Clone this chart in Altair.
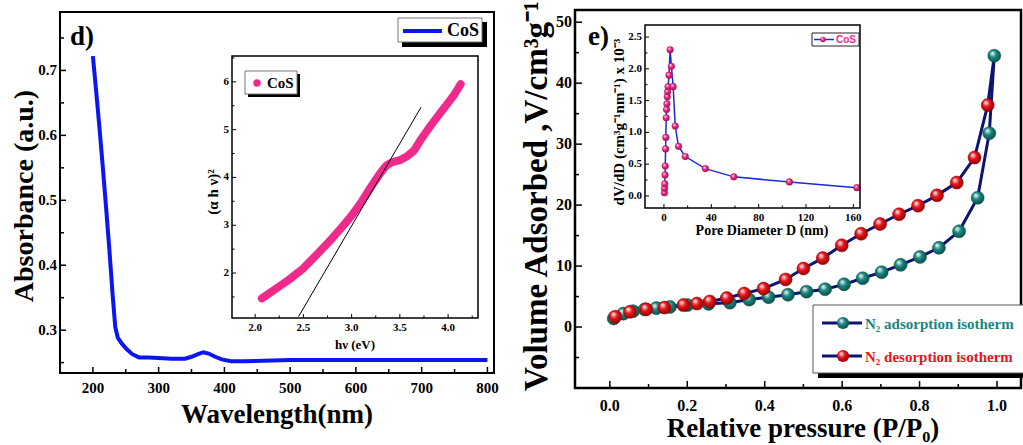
import altair as alt
import pandas as pd

SERIF = "Liberation Serif"
SANS = "Liberation Sans"
W, H = 1023, 445

# ---------------- UV-vis absorbance of CoS ----------------
wavelength_nm = [200, 205, 210, 215, 220, 225, 230, 234, 238, 245, 252, 260, 270, 285, 300,
                 320, 340, 350, 360, 368, 376, 386, 396, 410, 430, 460, 500, 550, 600, 650,
                 700, 750, 800]
absorbance = [0.722, 0.668, 0.612, 0.552, 0.490, 0.425, 0.355, 0.305, 0.288, 0.278, 0.270,
              0.263, 0.258, 0.258, 0.257, 0.256, 0.256, 0.259, 0.263, 0.266, 0.264, 0.259,
              0.255, 0.252, 0.252, 0.253, 0.254, 0.254, 0.254, 0.254, 0.254, 0.254, 0.254]

# ---------------- Tauc plot (inset) ----------------
photon_energy = [2.07, 2.2, 2.35, 2.5, 2.65, 2.8, 2.9, 3.0, 3.1, 3.2, 3.3, 3.36, 3.42, 3.5,
                 3.58, 3.65, 3.72, 3.8, 3.9, 4.0, 4.07, 4.13]
tauc_value = [1.47, 1.65, 1.86, 2.1, 2.41, 2.73, 2.96, 3.2, 3.48, 3.8, 4.1, 4.25, 4.32, 4.36,
              4.45, 4.57, 4.8, 5.03, 5.3, 5.56, 5.75, 5.95]
fit_energy = [2.45, 3.72]
fit_value = [1.09, 5.47]

# ---------------- N2 isotherms ----------------
ads_p = [0.01, 0.035, 0.06, 0.09, 0.12, 0.155, 0.2, 0.255, 0.31, 0.36, 0.41, 0.46, 0.508,
         0.556, 0.605, 0.653, 0.702, 0.751, 0.801, 0.85, 0.902, 0.95, 0.98, 0.993]
ads_v = [1.4, 2.2, 2.6, 2.9, 3.1, 3.3, 3.6, 3.8, 4.0, 4.5, 4.9, 5.3, 5.8, 6.2, 7.0, 8.0, 9.0,
         10.2, 11.5, 13.0, 15.7, 21.2, 31.8, 44.5]
des_p = [0.014, 0.052, 0.094, 0.141, 0.19, 0.225, 0.258, 0.302, 0.347, 0.397, 0.454, 0.50,
         0.55, 0.599, 0.649, 0.698, 0.747, 0.796, 0.845, 0.896, 0.942, 0.976, 0.993]
des_v = [1.7, 2.5, 2.9, 3.2, 3.6, 3.85, 4.2, 4.75, 5.5, 6.3, 7.8, 9.6, 11.3, 13.4, 15.3, 16.9,
         18.5, 19.9, 21.6, 23.7, 27.8, 36.4, 44.5]

# ---------------- pore size distribution (inset) ----------------
pore_d = [0.4, 0.55, 0.7, 0.9, 1.1, 1.4, 1.6, 1.9, 2.2, 2.5, 2.8, 3.1, 3.5, 4.3, 5.2, 6.3,
          7.8, 9.5, 12.3, 18.0, 35.0, 59.0, 106.0, 163.0]
pore_dv = [0.05, 0.12, 0.19, 0.33, 0.47, 0.74, 0.92, 1.23, 1.36, 1.45, 1.56, 1.64, 1.72,
           1.90, 2.30, 2.04, 1.72, 1.10, 0.78, 0.62, 0.43, 0.30, 0.22, 0.13]

# ---------------- tick labels ----------------
d_xticks = [200, 300, 400, 500, 600, 700, 800]
d_yticks = [0.3, 0.4, 0.5, 0.6, 0.7]
t_xticks = [2.0, 2.5, 3.0, 3.5, 4.0]
t_yticks = [2, 3, 4, 5, 6]
e_xticks = [0.0, 0.2, 0.4, 0.6, 0.8, 1.0]
e_yticks = [0, 10, 20, 30, 40, 50]
p_xticks = [0, 40, 80, 120, 160]
p_yticks = [0.0, 0.5, 1.0, 1.5, 2.0, 2.5]

BLUE = "#0b16f0"
PINK = "#f02a8a"
TEAL = "#17877f"
RED = "#e8141a"
NAVY = "#0d1470"

one = pd.DataFrame({"k": [0]})


def sphere(base, dark):
    return alt.RadialGradient(
        gradient="radial",
        stops=[alt.GradientStop(color="#ffffff", offset=0),
               alt.GradientStop(color=base, offset=0.45),
               alt.GradientStop(color=dark, offset=1)],
        x1=0.35, y1=0.3, r1=0, x2=0.45, y2=0.45, r2=0.6)


def frame_and_ticks(xs, ys, xdom, ydom, xmaj, xmin, ymaj, ymin, fw, tl_major, tl_minor, tw,
                    xfmt, yfmt, lsize, xpad, ypad):
    """Box around a panel, inward major/minor ticks and tick labels on bottom and left."""
    frame = alt.Chart(one).mark_rect(fill="transparent", stroke="black", strokeWidth=fw).encode(
        x=alt.XDatum(xdom[0], scale=xs, axis=None), x2=alt.X2Datum(xdom[1]),
        y=alt.YDatum(ydom[0], scale=ys, axis=None), y2=alt.Y2Datum(ydom[1]))
    layers = [frame]
    for vals, ln in ((xmaj, tl_major), (xmin, tl_minor)):
        layers.append(alt.Chart(pd.DataFrame({"t": vals})).mark_rule(
            color="black", strokeWidth=tw, y2Offset=-ln).encode(
            x=alt.X("t:Q", scale=xs, axis=None),
            y=alt.YDatum(ydom[0], scale=ys, axis=None), y2=alt.Y2Datum(ydom[0])))
    for vals, ln in ((ymaj, tl_major), (ymin, tl_minor)):
        layers.append(alt.Chart(pd.DataFrame({"t": vals})).mark_rule(
            color="black", strokeWidth=tw, x2Offset=ln).encode(
            y=alt.Y("t:Q", scale=ys, axis=None),
            x=alt.XDatum(xdom[0], scale=xs, axis=None), x2=alt.X2Datum(xdom[0])))
    layers.append(alt.Chart(pd.DataFrame({"t": xmaj})).mark_text(
        font=SERIF, fontWeight="bold", fontSize=lsize, color="black", baseline="top",
        align="center", dy=xpad).encode(
        x=alt.X("t:Q", scale=xs, axis=None),
        y=alt.YDatum(ydom[0], scale=ys, axis=None),
        text=alt.Text("t:Q", format=xfmt)))
    layers.append(alt.Chart(pd.DataFrame({"t": ymaj})).mark_text(
        font=SERIF, fontWeight="bold", fontSize=lsize, color="black", baseline="middle",
        align="right", dx=-ypad).encode(
        y=alt.Y("t:Q", scale=ys, axis=None),
        x=alt.XDatum(xdom[0], scale=xs, axis=None),
        text=alt.Text("t:Q", format=yfmt)))
    return layers


def box(x0, x1, y0, y1, fill, stroke, sw):
    return alt.Chart(one).mark_rect(fill=fill, stroke=stroke, strokeWidth=sw).encode(
        x=alt.value(x0), x2=alt.value(x1), y=alt.value(y0), y2=alt.value(y1))


def label(x, y, text, size, color="black", font=SERIF, angle=0, align="left"):
    return alt.Chart(one).mark_text(text=text, font=font, fontWeight="bold", fontSize=size,
                                    color=color, align=align, baseline="middle",
                                    angle=angle).encode(x=alt.value(x), y=alt.value(y))


# ================= panel d: absorbance =================
d_dom_x, d_dom_y = [150, 810], [0.234, 0.79]
d_x = alt.Scale(domain=d_dom_x, range=[60, 494], nice=False, zero=False)
d_y = alt.Scale(domain=d_dom_y, range=[373, 12], nice=False, zero=False)
uv = pd.DataFrame({"wl": wavelength_nm, "a": absorbance})
d_line = alt.Chart(uv).mark_line(color=BLUE, strokeWidth=4).encode(
    x=alt.X("wl:Q", scale=d_x, axis=None),
    y=alt.Y("a:Q", scale=d_y, axis=None))
d_layers = [d_line] + frame_and_ticks(
    d_x, d_y, d_dom_x, d_dom_y, d_xticks, [250, 350, 450, 550, 650, 750], d_yticks,
    [0.25, 0.35, 0.45, 0.55, 0.65, 0.75], 2, 6, 4, 1.5, "d", ".1f", 15, 8, 3)
d_layers += [
    box(402, 487, 22, 47, "black", "black", 0),
    box(398, 482, 18, 42, "white", "#777777", 1),
    alt.Chart(one).mark_rule(color=BLUE, strokeWidth=4).encode(
        x=alt.value(403), x2=alt.value(442), y=alt.value(31)),
    label(447, 31, "CoS", 18),
    label(70, 37, "d)", 27),
    label(277, 415, "Wavelength(nm)", 27, align="center"),
    label(25, 196, "Absorbance (a.u.)", 28, angle=270, align="center"),
]
panel_d = alt.layer(*d_layers)

# ================= inset: Tauc plot =================
t_dom_x, t_dom_y = [1.76, 4.31], [1.06, 6.54]
t_x = alt.Scale(domain=t_dom_x, range=[232, 478], nice=False, zero=False)
t_y = alt.Scale(domain=t_dom_y, range=[318, 56], nice=False, zero=False)
tauc = pd.DataFrame({"e": photon_energy, "v": tauc_value})
fit = pd.DataFrame({"e": fit_energy, "v": fit_value})
t_curve = alt.Chart(tauc).mark_line(color=PINK, strokeWidth=8, strokeCap="round",
                                    strokeJoin="round").encode(
    x=alt.X("e:Q", scale=t_x, axis=None), y=alt.Y("v:Q", scale=t_y, axis=None))
t_fit = alt.Chart(fit).mark_line(color="black", strokeWidth=1).encode(
    x=alt.X("e:Q", scale=t_x, axis=None), y=alt.Y("v:Q", scale=t_y, axis=None))
t_layers = [t_curve, t_fit] + frame_and_ticks(
    t_x, t_y, t_dom_x, t_dom_y, t_xticks, [2.25, 2.75, 3.25, 3.75, 4.25],
    t_yticks, [1.5, 2.5, 3.5, 4.5, 5.5, 6.5], 1.5, 4, 2.5, 1, ".1f", "d", 11, 4, 3)
t_layers += [
    box(248, 300, 74, 97, "black", "black", 0),
    box(245, 297, 71, 94, "white", "#777777", 1),
    alt.Chart(one).mark_circle(color=PINK, size=55, opacity=1).encode(
        x=alt.value(257), y=alt.value(83)),
    label(267, 83, "CoS", 15),
    label(355, 345, "hν (eV)", 13, align="center"),
    label(213, 192, "(α h ν)²", 15, angle=270, align="center"),
]
inset_d = alt.layer(*t_layers)

# ================= panel e: N2 isotherms =================
e_dom_x, e_dom_y = [-0.09, 1.062], [-10, 52]
e_x = alt.Scale(domain=e_dom_x, range=[575, 1021], nice=False, zero=False)
e_y = alt.Scale(domain=e_dom_y, range=[388, 10], nice=False, zero=False)
ads = pd.DataFrame({"p": ads_p, "v": ads_v})
des = pd.DataFrame({"p": des_p, "v": des_v})
e_des_line = alt.Chart(des).mark_line(color=NAVY, strokeWidth=3).encode(
    x=alt.X("p:Q", scale=e_x, axis=None), y=alt.Y("v:Q", scale=e_y, axis=None))
e_ads_line = alt.Chart(ads).mark_line(color=NAVY, strokeWidth=3).encode(
    x=alt.X("p:Q", scale=e_x, axis=None), y=alt.Y("v:Q", scale=e_y, axis=None))
e_ads_pts = alt.Chart(ads).mark_circle(
    fill=sphere(TEAL, "#0a4a44"), stroke="#0a4a44", strokeWidth=0.5, size=170, opacity=1).encode(
    x=alt.X("p:Q", scale=e_x, axis=None), y=alt.Y("v:Q", scale=e_y, axis=None))
e_des_pts = alt.Chart(des).transform_filter("datum.p < 0.99").mark_circle(
    fill=sphere(RED, "#8a0000"), stroke="#8a0000", strokeWidth=0.5, size=170, opacity=1).encode(
    x=alt.X("p:Q", scale=e_x, axis=None), y=alt.Y("v:Q", scale=e_y, axis=None))
e_layers = [e_des_line, e_ads_line, e_ads_pts, e_des_pts] + frame_and_ticks(
    e_x, e_y, e_dom_x, e_dom_y, e_xticks, [0.1, 0.3, 0.5, 0.7, 0.9],
    e_yticks, [-5, 5, 15, 25, 35, 45], 2.5, 7, 4, 1.5, ".1f", "d", 16, 10, 3)
e_layers += [
    box(818, 1030, 310, 378, "black", "black", 0),
    box(813, 1030, 305, 373, "white", "#555555", 1),
    alt.Chart(one).mark_rule(color=NAVY, strokeWidth=3).encode(
        x=alt.value(822), x2=alt.value(862), y=alt.value(323)),
    alt.Chart(one).mark_circle(fill=sphere(TEAL, "#0a4a44"), size=150, opacity=1).encode(
        x=alt.value(843), y=alt.value(323)),
    label(865, 324, "N₂ adsorption  isotherm", 15, TEAL),
    alt.Chart(one).mark_rule(color=NAVY, strokeWidth=3).encode(
        x=alt.value(822), x2=alt.value(862), y=alt.value(356)),
    alt.Chart(one).mark_circle(fill=sphere(RED, "#8a0000"), size=150, opacity=1).encode(
        x=alt.value(843), y=alt.value(356)),
    label(865, 357, "N₂ desorption isotherm", 15, RED),
    label(588, 37, "e)", 27),
    label(803, 429, "Relative pressure (P/P₀)", 27, align="center"),
    label(537, 196, "Volume Adsorbed ,V/cm³g⁻¹", 33, angle=270, align="center"),
]
panel_e = alt.layer(*e_layers)

# ================= inset: pore size distribution =================
p_dom_x, p_dom_y = [-16, 165.6], [-0.19, 2.69]
p_x = alt.Scale(domain=p_dom_x, range=[645, 860], nice=False, zero=False)
p_y = alt.Scale(domain=p_dom_y, range=[208, 25], nice=False, zero=False)
psd = pd.DataFrame({"d": pore_d, "dv": pore_dv, "i": list(range(len(pore_d)))})
p_line = alt.Chart(psd).mark_line(color="#1a2ad8", strokeWidth=1.5).encode(
    x=alt.X("d:Q", scale=p_x, axis=None), y=alt.Y("dv:Q", scale=p_y, axis=None),
    order="i:Q")
p_pts = alt.Chart(psd).mark_circle(
    fill=sphere(PINK, "#a0104e"), stroke="#a0104e", strokeWidth=0.4, size=45, opacity=1).encode(
    x=alt.X("d:Q", scale=p_x, axis=None), y=alt.Y("dv:Q", scale=p_y, axis=None))
p_layers = [p_line, p_pts] + frame_and_ticks(
    p_x, p_y, p_dom_x, p_dom_y, p_xticks, [20, 60, 100, 140],
    p_yticks, [0.25, 0.75, 1.25, 1.75, 2.25], 1.5, 4, 2.5, 1, "d", ".1f", 11, 4, 3)
p_layers += [
    box(812, 859, 33, 46, "white", "#222222", 1),
    alt.Chart(one).mark_rule(color="#1a2ad8", strokeWidth=1.5).encode(
        x=alt.value(814), x2=alt.value(834), y=alt.value(39.5)),
    alt.Chart(one).mark_circle(fill=sphere(PINK, "#a0104e"), size=30, opacity=1).encode(
        x=alt.value(823), y=alt.value(39.5)),
    label(836, 40, "CoS", 10, PINK, SANS),
    label(762, 231, "Pore Diameter D (nm)", 14, align="center"),
    label(619, 122, "dV/dD (cm³g⁻¹nm⁻¹) x 10⁻³", 15, angle=270, align="center"),
]
inset_e = alt.layer(*p_layers)

chart = alt.layer(panel_d, inset_d, panel_e, inset_e).resolve_scale(
    x="independent", y="independent"
).properties(
    width=W, height=H, autosize=alt.AutoSizeParams(type="none"), padding=0,
    background="white"
).configure_view(stroke="transparent")

chart.save("out.html", embed_options={"renderer": "svg", "actions": False})
